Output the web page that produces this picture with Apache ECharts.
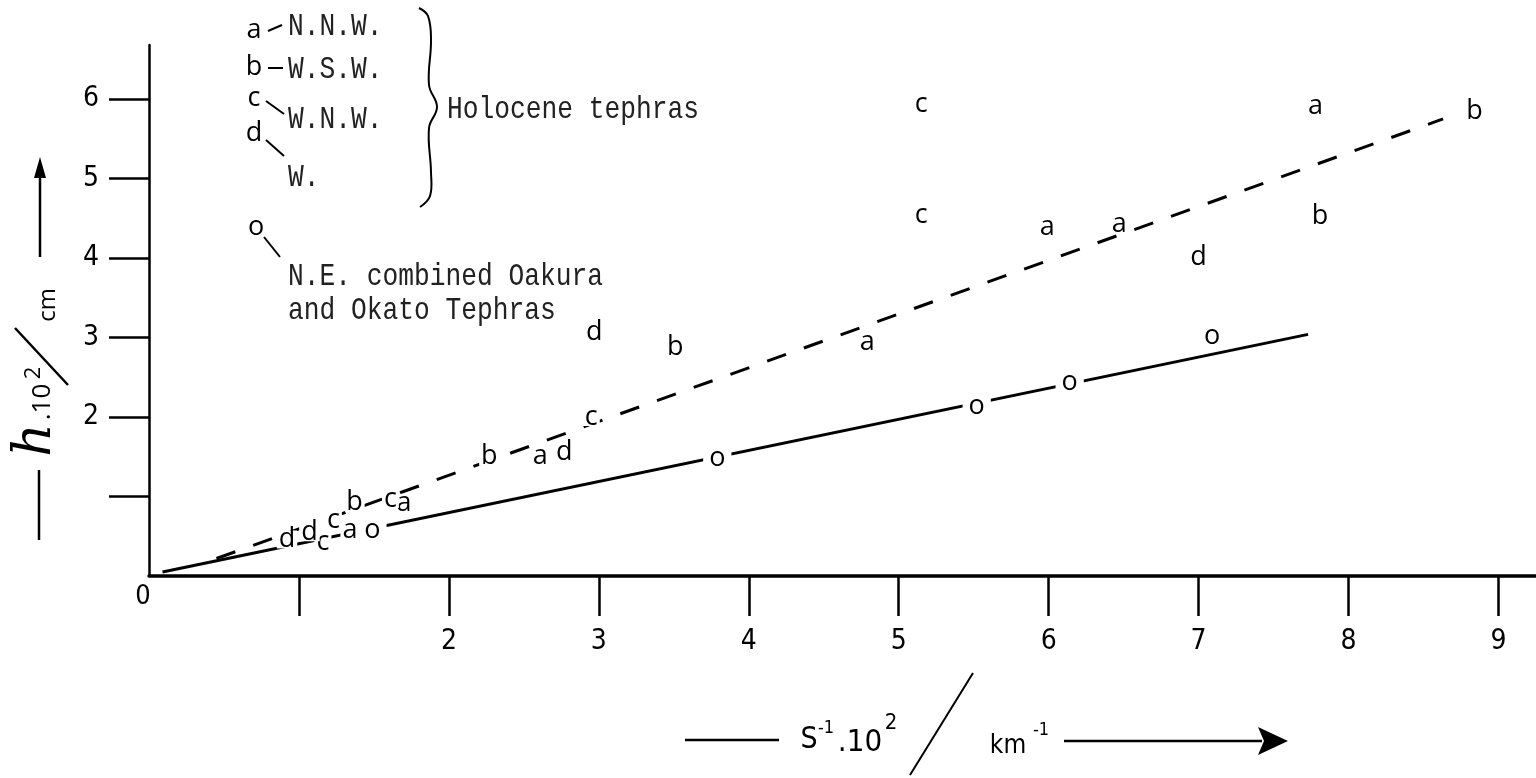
<!DOCTYPE html>
<html><head><meta charset="utf-8">
<script src="https://cdn.jsdelivr.net/npm/echarts@6/dist/echarts.min.js"></script>
<style>html,body{margin:0;padding:0;background:#fff}#chart{width:1536px;height:778px}</style>
</head><body><div id="chart"></div>
<script>
// ---- data ----
const seriesA = [[1.34,0.58],[1.70,0.92],[2.61,1.50],[4.79,2.94],[5.99,4.39],[6.47,4.43],[7.78,5.91]];
const seriesB = [[1.37,0.93],[2.27,1.50],[3.51,2.88],[7.81,4.52],[8.84,5.84]];
const seriesC = [[1.16,0.43],[1.23,0.70],[1.61,0.97],[2.95,2.00],[5.15,4.54],[5.15,5.94]];
const seriesD = [[0.92,0.46],[1.07,0.55],[2.77,1.56],[2.97,3.07],[7.00,4.01]];
const seriesO = [[1.49,0.58],[3.79,1.48],[5.52,2.13],[6.14,2.44],[7.09,3.01]];
const holoceneLine = [[0.45,0.22],[8.63,5.75]];
const oakuraLine = [[0.09,0.05],[7.73,3.04]];
const xTickValues = [1,2,3,4,5,6,7,8,9];
const xTickLabels = ['2','3','4','5','6','7','8','9'];
const yTickValues = [1,2,3,4,5,6];
const yTickLabels = ['2','3','4','5','6'];
const originLabel = '0';
const legendLetters = ['a','b','c','d'];
const legendNames = ['N.N.W.','W.S.W.','W.N.W.','W.'];
const holoceneText = 'Holocene tephras';
const oakuraText = ['N.E. combined Oakura','and Okato Tephras'];

const INK = '#000';
const LETTER_FONT = "'Open Sans', 'DejaVu Sans', sans-serif";
const NUM_FONT = "'Liberation Sans Narrow', 'DejaVu Sans Condensed', sans-serif";
const TYPE_FONT = "'Liberation Mono', 'DejaVu Sans Mono', monospace";

const chart = echarts.init(document.getElementById('chart'), null, {renderer:'canvas'});

function letterSeries(name, data, padX){
  return {
    type:'scatter', name, data, z:5,
    symbol:'circle', symbolSize:1,
    itemStyle:{color:'#fff', opacity:1},
    label:{show:true, position:'inside', formatter:p=>p.seriesName,
      fontFamily:LETTER_FONT, fontSize:27, color:'#000', opacity:1, textBorderWidth:0,
      backgroundColor:'#fff', lineHeight:18, padding:[0,padX]},
    emphasis:{disabled:true}, silent:true
  };
}

function typeText(x, y, text){
  return {type:'text', x, y, scaleX:0.82, z:10,
    style:{text, fontFamily:TYPE_FONT, fontSize:32, fill:'#222', align:'left', verticalAlign:'middle'}};
}
function sansText(x, y, text, size, extra){
  return Object.assign({type:'text', x, y, z:10,
    style:{text, fontFamily:LETTER_FONT, fontSize:size, fill:INK, align:'center', verticalAlign:'middle'}}, extra||{});
}
function numText(x, y, text, size, extra){
  return Object.assign({type:'text', x, y, z:10,
    style:{text, fontFamily:NUM_FONT, fontSize:size, fill:INK, align:'center', verticalAlign:'middle'}}, extra||{});
}
function seg(x1,y1,x2,y2,w){
  return {type:'line', z:10, shape:{x1,y1,x2,y2}, style:{stroke:INK, lineWidth:w||2}};
}

const legendY = [30, 67, 98, 133];
const nameY = [27, 70, 120, 178];
const graphics = [];
legendLetters.forEach((l,i)=>{
  graphics.push(sansText(254, legendY[i], l, 27));
  graphics.push(typeText(288, nameY[i], legendNames[i]));
});
graphics.push(seg(268,31,282,25,2));
graphics.push(seg(268,68,283,68,2));
graphics.push(seg(266,101,284,114,2));
graphics.push(seg(266,140,284,156,2));
graphics.push({type:'polyline', z:10, shape:{smooth:0.4, points:[[419,8],[428,16],[431,40],[429,85],[437,107],[429,128],[431,172],[430,196],[420,207]]},
  style:{stroke:INK, lineWidth:2, fill:null}});
graphics.push(typeText(447, 110, holoceneText));
graphics.push(sansText(256, 227, 'o', 27));
graphics.push(seg(264,237,280,257,2));
graphics.push(typeText(288, 277, oakuraText[0]));
graphics.push(typeText(288, 311, oakuraText[1]));
// origin label
graphics.push(numText(143, 597, originLabel, 27));
// y-axis title (rotated, reading bottom to top)
graphics.push(seg(39,540,39,470,2.5));
graphics.push({type:'text', x:36, y:440, rotation:Math.PI/2, z:10,
  style:{text:'h', fontFamily:"'DejaVu Serif', serif", fontStyle:'italic', fontSize:52, fill:INK, align:'center', verticalAlign:'middle'}});
graphics.push(sansText(43, 402, '.10', 26, {rotation:Math.PI/2}));
graphics.push(sansText(34, 373, '2', 22, {rotation:Math.PI/2}));
graphics.push(seg(15,328,68,385,2.5));
graphics.push(sansText(48, 305, 'cm', 24, {rotation:Math.PI/2}));
graphics.push(seg(40,257,40,172,2.5));
graphics.push({type:'polygon', z:10, shape:{points:[[34,178],[40,157],[46,178]]}, style:{fill:INK}});
// x-axis title
graphics.push(seg(685,740,779,740,2.5));
graphics.push(numText(809, 740, 'S', 30));
graphics.push(numText(826, 728, '-1', 18));
graphics.push(numText(860, 743, '.10', 31));
graphics.push(numText(891, 723, '2', 22));
graphics.push(seg(973,673,910,775,2));
graphics.push(numText(1008, 746, 'km', 26));
graphics.push(numText(1041, 730, '-1', 18));
graphics.push(seg(1064,741,1262,741,2.5));
graphics.push({type:'polygon', z:10, shape:{points:[[1258,727],[1288,741],[1258,755],[1264,741]]}, style:{fill:INK}});

const option = {
  backgroundColor:'#fff',
  animation:false,
  grid:{left:149, right:0, top:45, bottom:202, containLabel:false, outerBoundsMode:'none'},
  xAxis:{type:'value', min:0, max:9.25,
    axisLine:{show:true, onZero:false, lineStyle:{color:INK, width:3.5}},
    axisTick:{show:true, customValues:xTickValues, length:40, lineStyle:{color:INK, width:2.5}},
    axisLabel:{customValues:xTickLabels.map(Number), formatter:v=>xTickLabels[xTickLabels.map(Number).indexOf(v)]||'',
      margin:52, fontFamily:NUM_FONT, fontSize:28, color:INK},
    splitLine:{show:false}},
  yAxis:{type:'value', min:0, max:6.68,
    axisLine:{show:true, onZero:false, lineStyle:{color:INK, width:2.5}},
    axisTick:{show:true, customValues:yTickValues, length:40, lineStyle:{color:INK, width:2.5}},
    axisLabel:{customValues:yTickLabels.map(Number), formatter:v=>yTickLabels[yTickLabels.map(Number).indexOf(v)]||'',
      margin:50, fontFamily:NUM_FONT, fontSize:28, color:INK},
    splitLine:{show:false}},
  series:[
    {type:'line', name:'Holocene fit', data:holoceneLine, symbol:'none', z:1, silent:true,
      lineStyle:{color:INK, width:3, type:[20,19]}},
    {type:'line', name:'Oakura/Okato fit', data:oakuraLine, symbol:'none', z:1, silent:true,
      lineStyle:{color:INK, width:3, type:'solid'}},
    letterSeries('a', seriesA, 2),
    letterSeries('b', seriesB, 2),
    letterSeries('c', seriesC, 2),
    letterSeries('d', seriesD, 2),
    letterSeries('o', seriesO, 6)
  ],
  graphic:graphics
};
chart.setOption(option);
</script></body></html>
